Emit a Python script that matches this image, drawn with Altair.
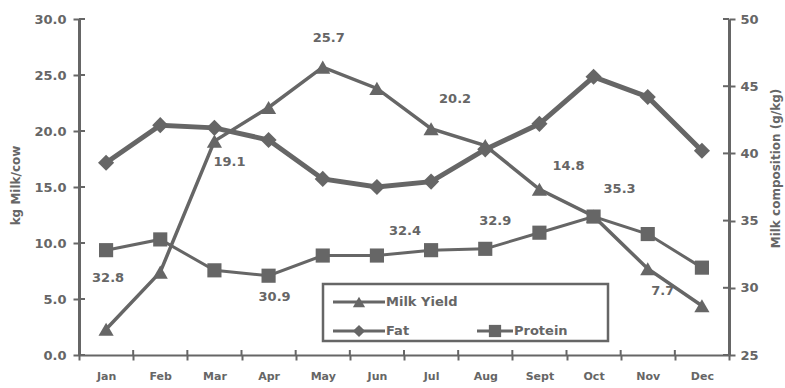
import altair as alt
import pandas as pd

# Monthly milk yield and composition
months = ["Jan", "Feb", "Mar", "Apr", "May", "Jun", "Jul", "Aug", "Sept", "Oct", "Nov", "Dec"]
milk_yield = [2.3, 7.4, 19.1, 22.1, 25.7, 23.8, 20.2, 18.7, 14.8, 12.4, 7.7, 4.4]   # kg/cow
fat = [39.3, 42.1, 41.9, 41.0, 38.1, 37.5, 37.9, 40.3, 42.2, 45.7, 44.2, 40.2]        # g/kg
protein = [32.8, 33.6, 31.3, 30.9, 32.4, 32.4, 32.8, 32.9, 34.1, 35.3, 34.0, 31.5]    # g/kg

left_ticks = [0, 5, 10, 15, 20, 25, 30]
right_ticks = [25, 30, 35, 40, 45, 50]
series_names = ["Milk Yield", "Fat", "Protein"]

df = pd.DataFrame({"month": months, "milk": milk_yield, "fat": fat, "protein": protein})
left_df = pd.DataFrame({"v": left_ticks})
right_df = pd.DataFrame({"v": right_ticks})

GREY = "#666666"
FONT = "DejaVu Sans"
W, H = 650, 336

band = alt.Scale(type="band", paddingInner=0, paddingOuter=0)
x_axis = alt.X(
    "month:N", sort=months, bandPosition=0.5, scale=band,
    axis=alt.Axis(title=None, tickBand="extent", labelAngle=0, labelFontSize=11,
                  labelPadding=10, tickSize=5, domainWidth=2),
)
x_plain = alt.X("month:N", sort=months, bandPosition=0.5, scale=band)

y_left_scale = alt.Scale(domain=[0, 30], nice=False, zero=False)
y_right_scale = alt.Scale(domain=[25, 50], nice=False, zero=False)

left_axis = alt.Axis(title="kg Milk/cow", values=left_ticks, format=".1f",
                     orient="left", tickSize=6, labelPadding=7, domainWidth=3,
                     titleAngle=270, titleX=-64, titleY=166, titleBaseline="middle",
                     titleAlign="center")
right_axis = alt.Axis(title="Milk composition (g/kg)", values=right_ticks, format="d",
                      orient="right", tickSize=6, labelPadding=5, domainWidth=3,
                      titleAngle=270, titleX=46, titleY=149, titleBaseline="middle",
                      titleAlign="center")


def y_milk(axis=None):
    return alt.Y("milk:Q", scale=y_left_scale, axis=axis)


def y_comp(field, axis=None):
    return alt.Y(f"{field}:Q", scale=y_right_scale, axis=axis)


base = alt.Chart(df)

# Milk yield on the left axis
milk_line = base.mark_line(color=GREY, strokeWidth=3.5).encode(x=x_axis, y=y_milk(left_axis))
milk_pts = base.mark_point(shape="triangle-up", filled=True, color=GREY, size=230,
                           opacity=1).encode(x=x_plain, y=y_milk())

# Fat and protein on the right axis
fat_line = base.mark_line(color=GREY, strokeWidth=5).encode(x=x_plain, y=y_comp("fat", right_axis))
fat_pts = base.mark_point(shape="diamond", filled=True, color=GREY, size=260,
                          opacity=1).encode(x=x_plain, y=y_comp("fat"))
prot_line = base.mark_line(color=GREY, strokeWidth=3).encode(x=x_plain, y=y_comp("protein"))
prot_pts = base.mark_point(shape="square", filled=True, color=GREY, size=200,
                           opacity=1).encode(x=x_plain, y=y_comp("protein"))

# Tick marks that also cross to the inside of each axis line
left_inner = alt.Chart(left_df).mark_rule(color=GREY, strokeWidth=2).encode(
    y=alt.Y("v:Q", scale=y_left_scale, axis=None), x=alt.value(0), x2=alt.value(6))
right_inner = alt.Chart(right_df).mark_rule(color=GREY, strokeWidth=2).encode(
    y=alt.Y("v:Q", scale=y_right_scale, axis=None), x=alt.value(W - 6), x2=alt.value(W))
bottom_inner = base.transform_filter(alt.datum.month != months[0]).mark_rule(
    color=GREY, strokeWidth=2).encode(
    x=alt.X("month:N", sort=months, bandPosition=0, scale=band),
    y=alt.value(H - 5), y2=alt.value(H))


def value_label(field, month, dx, dy, y_enc):
    return base.transform_filter(alt.datum.month == month).mark_text(
        dx=dx, dy=dy, fontSize=13, fontWeight="bold", font=FONT, color=GREY
    ).encode(x=x_plain, y=y_enc, text=alt.Text(f"{field}:Q", format=".1f"))


labels = [
    value_label("milk", "Mar", 15, 21, y_milk()),
    value_label("milk", "May", 6, -29, y_milk()),
    value_label("milk", "Jul", 24, -30, y_milk()),
    value_label("milk", "Sept", 29, -23, y_milk()),
    value_label("milk", "Nov", 15, 22, y_milk()),
    value_label("protein", "Jan", 2, 28, y_comp("protein")),
    value_label("protein", "Apr", 6, 21, y_comp("protein")),
    value_label("protein", "Jun", 28, -25, y_comp("protein")),
    value_label("protein", "Aug", 10, -28, y_comp("protein")),
    value_label("protein", "Oct", 26, -28, y_comp("protein")),
]

# Boxed legend: line through a marker, then the series name
one = pd.DataFrame({"k": [0]})
leg_base = alt.Chart(one)
legend_layers = [leg_base.mark_rect(fill="white", stroke=GREY, strokeWidth=2.5).encode(
    x=alt.value(244), x2=alt.value(529), y=alt.value(265), y2=alt.value(322))]
entries = [
    (series_names[0], 254, 306, 283, "triangle-up"),
    (series_names[1], 254, 306, 312, "diamond"),
    (series_names[2], 398, 434, 312, "square"),
]
for name, x0, x1, yy, shape in entries:
    legend_layers.append(leg_base.mark_rule(color=GREY, strokeWidth=3).encode(
        x=alt.value(x0), x2=alt.value(x1), y=alt.value(yy)))
    legend_layers.append(leg_base.mark_point(shape=shape, filled=True, color=GREY,
                                             size=150, opacity=1).encode(
        x=alt.value((x0 + x1) / 2), y=alt.value(yy)))
    legend_layers.append(leg_base.mark_text(align="left", baseline="middle", fontSize=13,
                                            fontWeight="bold", font=FONT, color=GREY).encode(
        x=alt.value(x1 + 1), y=alt.value(yy), text=alt.value(name)))

chart = alt.layer(
    milk_line, fat_line, left_inner, right_inner, bottom_inner,
    milk_pts, fat_pts, prot_line, prot_pts, *labels, *legend_layers
).resolve_scale(y="independent").properties(
    width=W, height=H,
    autosize=alt.AutoSizeParams(type="none"),
    padding={"left": 79, "top": 19, "right": 56, "bottom": 33},
    background="white",
).configure_view(stroke=None).configure_axis(
    grid=False, domainColor=GREY, tickColor=GREY, tickWidth=2,
    labelColor=GREY, titleColor=GREY, labelFont=FONT, titleFont=FONT,
    labelFontWeight="bold", titleFontWeight="bold", labelFontSize=13, titleFontSize=12,
)

chart.save("out.html", embed_options={"renderer": "svg", "actions": False})
